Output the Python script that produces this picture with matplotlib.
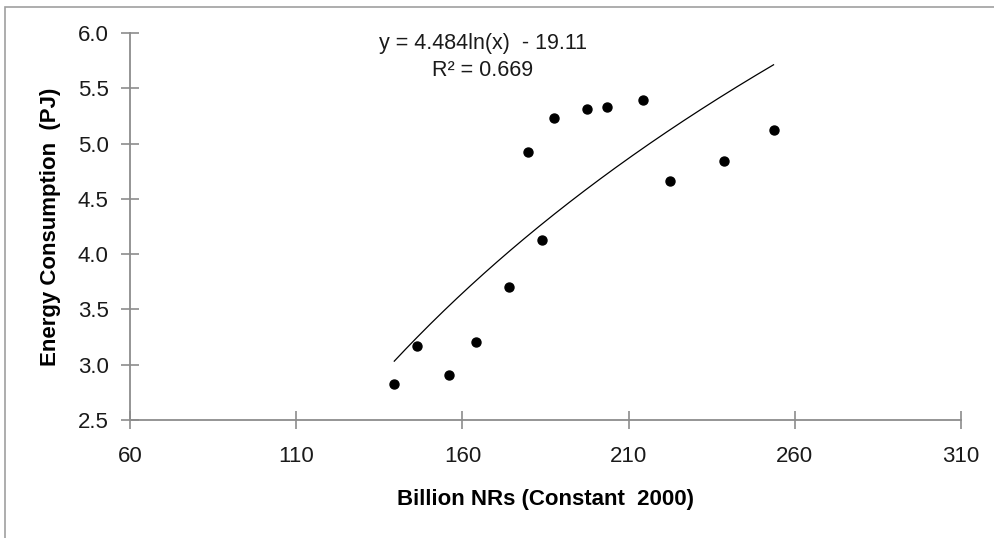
import numpy as np
import matplotlib
matplotlib.use('agg')
import matplotlib.pyplot as plt
from matplotlib.patches import Rectangle

plt.rcParams['font.family'] = ['Liberation Sans', 'DejaVu Sans']

# GDP (billion NRs, constant 2000) vs energy consumption (PJ)
gdp = [139.5, 146.2, 156.0, 164.0, 174.0, 179.7, 184.0, 187.5,
       197.5, 203.6, 214.3, 222.4, 238.8, 253.6]
energy = [2.83, 3.17, 2.91, 3.21, 3.70, 4.92, 4.13, 5.23,
          5.31, 5.33, 5.39, 4.66, 4.84, 5.12]

# logarithmic trend line coefficients
coef_a = 4.484
coef_b = -19.11
r2 = 0.669

fig = plt.figure(figsize=(9.94, 5.38), dpi=100)
ax = fig.add_axes([0.1308, 0.2193, 0.8360, 0.7194])

# outer frame of the chart area
fig.patches.append(Rectangle((5 / 994, -0.1), 1.2, 1.1 - 7 / 538,
                             transform=fig.transFigure, fill=False,
                             edgecolor='#a0a0a0', linewidth=1.2))

ax.scatter(gdp, energy, s=42, color='black', zorder=3)

xs = np.linspace(min(gdp), max(gdp), 200)
ax.plot(xs, coef_a * np.log(xs) + coef_b, color='black', linewidth=0.9)

ax.set_xlim(60, 310)
ax.set_ylim(2.5, 6.0)
ax.set_xticks([60, 110, 160, 210, 260, 310])
ax.set_yticks(np.arange(2.5, 6.01, 0.5))
ax.yaxis.set_major_formatter(matplotlib.ticker.FormatStrFormatter('%.1f'))

for s in ['top', 'right']:
    ax.spines[s].set_visible(False)
for s in ['left', 'bottom']:
    ax.spines[s].set_color('#8c8c8c')
    ax.spines[s].set_linewidth(1.3)
ax.tick_params(direction='inout', length=13, width=1.2, color='#8c8c8c',
               labelsize=16, labelcolor='#1a1a1a')
ax.tick_params(axis='x', pad=12)
ax.tick_params(axis='y', pad=9)

ax.set_xlabel('Billion NRs (Constant  2000)', fontsize=16,
              fontweight='bold', labelpad=16)
ax.set_ylabel('Energy Consumption  (PJ)', fontsize=16,
              fontweight='bold', labelpad=12)

ax.text(0.4245, 0.973, 'y = 4.484ln(x)  - 19.11', transform=ax.transAxes,
        ha='center', va='center', fontsize=15.5, color='#1a1a1a')
ax.text(0.4245, 0.903, 'R\u00b2 = %.3f' % r2, transform=ax.transAxes,
        ha='center', va='center', fontsize=15.5, color='#1a1a1a')

fig.savefig('out.png', dpi=100)
